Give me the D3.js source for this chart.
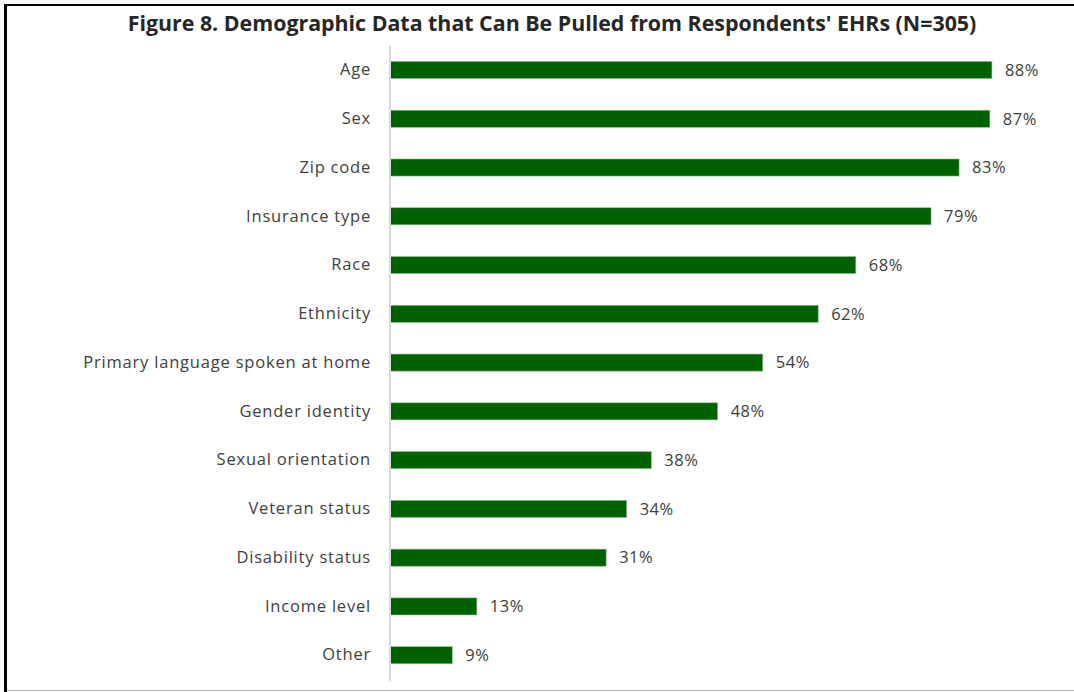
<!DOCTYPE html>
<html><head><meta charset="utf-8">
<script src="https://cdn.jsdelivr.net/npm/d3@7"></script>
<style>
html,body{margin:0;padding:0;background:#fff;}
svg{display:block;}
text{font-family:"Open Sans","Liberation Sans",sans-serif;}
</style></head>
<body>
<svg id="chart" width="1074" height="692"></svg>
<script>
const titleText = "Figure 8. Demographic Data that Can Be Pulled from Respondents' EHRs (N=305)";
const categories = ["Age","Sex","Zip code","Insurance type","Race","Ethnicity","Primary language spoken at home","Gender identity","Sexual orientation","Veteran status","Disability status","Income level","Other"];
const values = [88.0,87.7,83.2,79.1,68.1,62.6,54.5,47.9,38.2,34.6,31.6,12.7,9.1];
const valueLabels = ["88%","87%","83%","79%","68%","62%","54%","48%","38%","34%","31%","13%","9%"];

const svg = d3.select("#chart");
const W = 1074, H = 692;

// border
svg.append("line").attr("x1",5.5).attr("x2",5.5).attr("y1",4).attr("y2",692).attr("stroke","#000").attr("stroke-width",3);
svg.append("line").attr("x1",4).attr("x2",W).attr("y1",5).attr("y2",5).attr("stroke","#000").attr("stroke-width",2);
svg.append("line").attr("x1",7).attr("x2",W).attr("y1",690.5).attr("y2",690.5).attr("stroke","#c8c8c8").attr("stroke-width",1.5);

// title
const title = svg.append("text").attr("x",552).attr("y",31).attr("text-anchor","middle")
  .attr("font-size",20).attr("font-weight","bold").attr("fill","#262626").text(titleText);
const tw = title.node().getComputedTextLength();
title.attr("font-size", 20*849/tw);

const x = d3.scaleLinear().domain([0,100]).range([390,1074]);
const y = d3.scaleBand().domain(categories).range([45.6,679.6]).paddingInner(0.65).paddingOuter(0.325);

svg.append("g").selectAll("rect").data(categories).join("rect")
  .attr("x",x(0)).attr("y",d=>y(d))
  .attr("width",(d,i)=>x(values[i])-x(0)).attr("height",y.bandwidth())
  .attr("fill","#006100").attr("stroke","#8fbf8f").attr("stroke-width",0.6);

// category axis
const yAxis = d3.axisLeft(y).tickSize(0).tickPadding(19);
const ax = svg.append("g").attr("transform",`translate(${x(0)},0)`).call(yAxis);
ax.select(".domain").attr("stroke","#d9d9d9").attr("stroke-width",2).attr("d","M0,46V681");
ax.selectAll("text").attr("font-size",16.5).attr("fill","#404040")
  .style("letter-spacing","0.8px")
  .style("font-family",'"Open Sans","Liberation Sans",sans-serif');

// value labels
svg.append("g").selectAll("text").data(categories).join("text")
  .attr("x",(d,i)=>x(values[i])+13).attr("y",d=>y(d)+y.bandwidth()/2).attr("dy","0.35em")
  .attr("font-size",16.5).style("letter-spacing","0.5px").attr("fill","#404040").text((d,i)=>valueLabels[i]);
</script>
</body></html>
